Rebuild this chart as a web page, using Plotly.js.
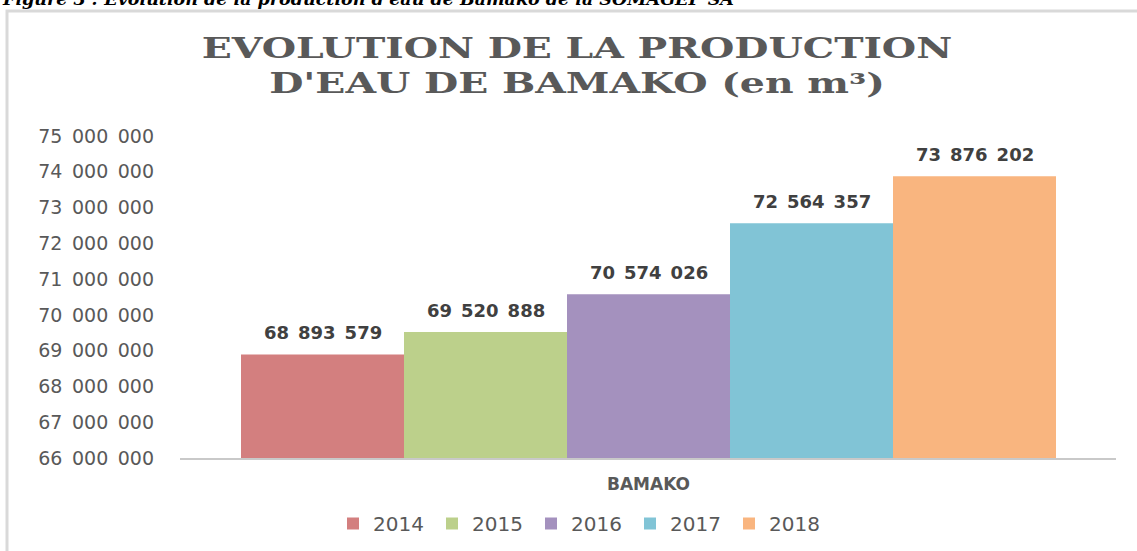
<!DOCTYPE html>
<html>
<head>
<meta charset="utf-8">
<script src="https://cdn.plot.ly/plotly-3.0.1.min.js"></script>
<style>
  html, body { margin: 0; padding: 0; background: #ffffff; }
  #chart { width: 1137px; height: 551px; }
  .gtitle { transform: scaleX(1.46); transform-box: fill-box; transform-origin: center; }
</style>
</head>
<body>
<div id="chart"></div>
<script>
// ---- data ----
const years = ['2014', '2015', '2016', '2017', '2018'];
const production = [68893579, 69520888, 70574026, 72564357, 73876202];
const colors = ['#d37f7f', '#bcd08b', '#a491be', '#81c4d6', '#f9b57f'];
const categoryLabel = ['BAMAKO'];
const yTickValues = [66000000, 67000000, 68000000, 69000000, 70000000,
                     71000000, 72000000, 73000000, 74000000, 75000000];
const titleText = "EVOLUTION DE LA PRODUCTION<br>D'EAU DE BAMAKO (en m³)";
const captionText = "Figure 3 : Evolution de la production d'eau de Bamako de la SOMAGEP SA";

// French-style thousands grouping
function fmt(v) {
  return String(v).replace(/\B(?=(\d{3})+(?!\d))/g, '\u2002');
}

const traces = years.map((yr, i) => ({
  type: 'bar',
  name: yr,
  x: [i],
  y: [production[i]],
  width: 1,
  marker: { color: colors[i], line: { width: 0 } },
  hoverinfo: 'skip'
}));

const annotations = years.map((yr, i) => ({
  x: i, y: production[i], xref: 'x', yref: 'y',
  text: fmt(production[i]),
  showarrow: false,
  yanchor: 'bottom',
  yshift: 9,
  font: { family: 'DejaVu Sans', size: 18, color: '#404040', weight: 'bold' }
}));

annotations.push({
  xref: 'paper', yref: 'paper',
  x: (0 - 180) / 936, y: (458 + 1) / 322,
  xanchor: 'left', yanchor: 'middle',
  text: captionText,
  showarrow: false,
  font: { family: 'DejaVu Serif', size: 17.5, color: '#000000', weight: 'bold', style: 'italic' }
});

const layout = {
  width: 1137,
  height: 551,
  margin: { l: 180, r: 21, t: 136, b: 93 },
  paper_bgcolor: '#ffffff',
  plot_bgcolor: '#ffffff',
  barmode: 'overlay',
  hovermode: false,
  title: {
    text: titleText,
    xref: 'container', yref: 'container',
    x: 577 / 1137, xanchor: 'center',
    y: 1 - 58 / 551, yanchor: 'top',
    font: { family: 'DejaVu Serif', size: 27, color: '#595959', weight: 'bold' }
  },
  xaxis: {
    range: [-0.5 - 61 / 163, 4.5 + 60 / 163],
    tickmode: 'array',
    tickvals: [(years.length - 1) / 2],
    ticktext: categoryLabel,
    ticks: '',
    ticklabelstandoff: 10,
    showgrid: false,
    zeroline: false,
    showline: true,
    linecolor: '#c9c9c9',
    linewidth: 2,
    tickfont: { family: 'DejaVu Sans', size: 17, color: '#595959', weight: 'bold' },
    fixedrange: true
  },
  yaxis: {
    range: [66000000, 75000000],
    tickmode: 'array',
    tickvals: yTickValues,
    ticktext: yTickValues.map(fmt),
    ticks: '',
    ticklabelstandoff: 25,
    showgrid: false,
    zeroline: false,
    showline: false,
    tickfont: { family: 'DejaVu Sans', size: 19, color: '#595959' },
    fixedrange: true
  },
  legend: {
    orientation: 'h',
    xref: 'container', yref: 'container',
    x: 333 / 1137, xanchor: 'left',
    y: 1 - 504 / 551, yanchor: 'top',
    entrywidth: 54,
    font: { family: 'DejaVu Sans', size: 20, color: '#595959' },
    bgcolor: 'rgba(0,0,0,0)'
  },
  showlegend: true,
  annotations: annotations,
  shapes: [{
    type: 'rect', xref: 'paper', yref: 'paper',
    x0: (7 - 180) / 936, x1: (1160 - 180) / 936,
    y0: (458 - 570) / 322, y1: (458 - 11) / 322,
    line: { color: '#d9d9d9', width: 3 },
    fillcolor: 'rgba(0,0,0,0)',
    layer: 'below'
  }]
};

Plotly.newPlot('chart', traces, layout, { displayModeBar: false, staticPlot: true });
</script>
</body>
</html>
